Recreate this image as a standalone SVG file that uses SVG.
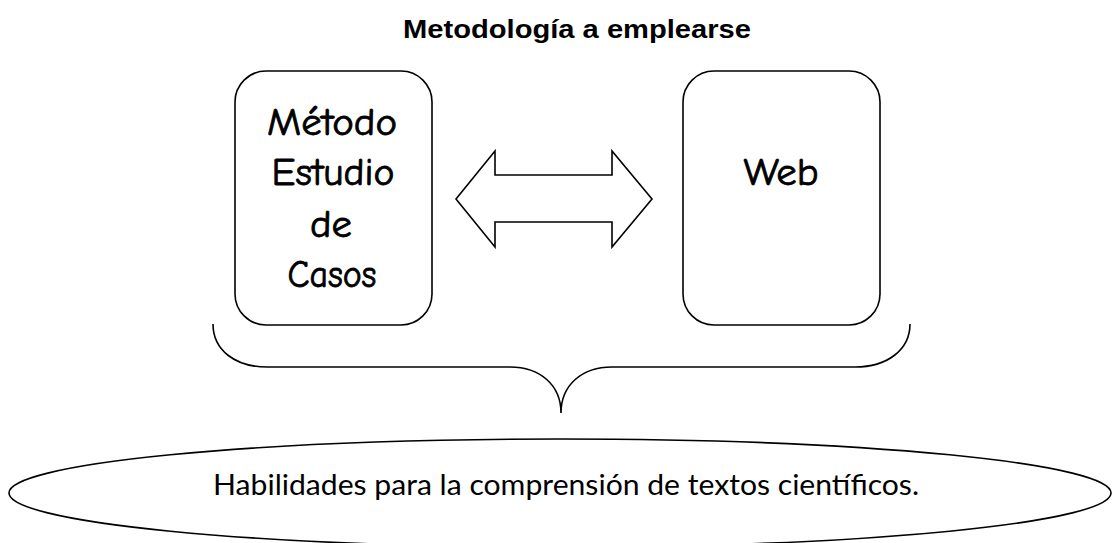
<svg xmlns="http://www.w3.org/2000/svg" width="1112" height="543" viewBox="0 0 1112 543">
<style>
.shape{fill:#fff;stroke:#000;stroke-width:1.6}
.line{fill:none;stroke:#000;stroke-width:1.6}
.hand{font-family:"Comic Sans MS","Comic Neue","DejaVu Sans",sans-serif;font-size:38px;font-weight:normal;fill:#000;stroke:#000;stroke-width:0.8;text-anchor:middle}
.title{font-family:"Liberation Sans",Arial,sans-serif;font-weight:bold;font-size:25px;fill:#000;text-anchor:middle}
.goal{font-family:"Tempus Sans ITC",Lato,"Noto Sans",sans-serif;font-size:28px;fill:#000;text-anchor:middle}
</style>
<rect width="1112" height="543" fill="#fff"/>
<g id="title">
<text class="title" x="577" y="38" textLength="348" lengthAdjust="spacingAndGlyphs">Metodología a emplearse</text>
</g>
<g id="metodo">
<rect class="shape" x="235" y="71" width="197" height="254" rx="31" ry="31"/>
<text class="hand" x="332" y="135" textLength="130" lengthAdjust="spacingAndGlyphs">Método</text>
<text class="hand" x="333" y="185" textLength="123" lengthAdjust="spacingAndGlyphs">Estudio</text>
<text class="hand" x="331" y="237" textLength="42" lengthAdjust="spacingAndGlyphs">de</text>
<text class="hand" x="332" y="287" textLength="89" lengthAdjust="spacingAndGlyphs">Casos</text>
</g>
<g id="web">
<rect class="shape" x="683" y="71" width="197" height="254" rx="31" ry="31"/>
<text class="hand" x="781" y="185" textLength="75" lengthAdjust="spacingAndGlyphs">Web</text>
</g>
<g id="connectors">
<polygon class="shape" stroke-width="1.4" points="456,199 495,151 495,175 612,175 612,151 652,199 612,247 612,222 495,222 495,247"/>
<path class="line" d="M213,324 C213,350 235,367 267,367 L510,367 C540,367 561,385 561,413 C561,385 582,367 612,367 L855,367 C887,367 910,350 910,324"/>
</g>
<g id="habilidades">
<ellipse class="shape" stroke-width="2" cx="560" cy="493" rx="551" ry="54"/>
<text class="goal" x="566" y="495" textLength="706" lengthAdjust="spacingAndGlyphs">Habilidades para la comprensión de textos científicos.</text>
</g>
</svg>
